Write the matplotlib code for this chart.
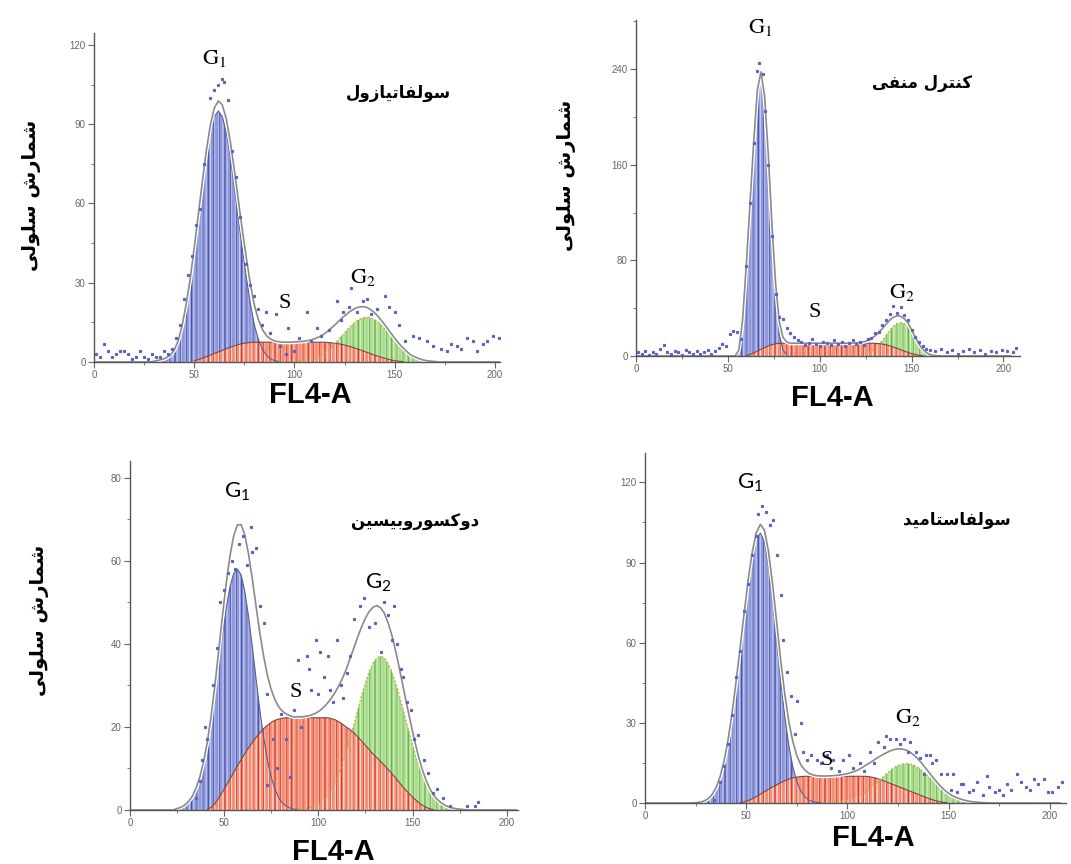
import numpy as np
import matplotlib
matplotlib.use('Agg')
import matplotlib.pyplot as plt

plt.rcParams['font.family'] = ['Liberation Sans', 'DejaVu Sans']
plt.rcParams['hatch.linewidth'] = 0.8
plt.rcParams['mathtext.rm'] = 'Lato'
plt.rcParams['mathtext.it'] = 'Lato:italic'
plt.rcParams['mathtext.bf'] = 'Lato:bold'

# ---------------- data ----------------
# panel 1: sulfathiazole, even grid
p1_title = 'سولفاتیازول'
p1_g1_start = 30
p1_g1 = [0.3, 0.6, 1.0, 1.6, 2.5, 4.5, 8, 14, 22, 31.5, 42.8, 54.6, 66.6, 77.8, 86.9, 92.9, 95,
         92.9, 86.9, 77.8, 66.6, 54.6, 42.8, 32.1, 22, 14, 8.5, 4.8, 2.5, 1.2, 0.5, 0.2, 0]
p1_s_start = 48
p1_s = [0, 0.5, 0.9, 1.4, 2.0, 2.6, 3.2, 3.8, 4.4, 5.0, 5.6, 6.1, 6.6, 7.0, 7.2, 7.4,
        7.5, 7.5, 7.5, 7.5, 7.5, 7.5, 7.5, 7.5, 7.5, 7.5, 7.5, 7.5, 7.5, 7.5, 7.5, 7.5, 7.5, 7.5,
        7.4, 7.3, 7.1, 6.9, 6.6, 6.2, 5.8, 5.3, 4.8, 4.25, 3.7, 3.15, 2.6, 2.1, 1.6, 1.2, 0.8,
        0.5, 0.3, 0.15, 0.05, 0]
p1_g2_start = 100
p1_g2 = [0.1, 0.2, 0.3, 0.5, 0.8, 1.3, 1.9, 2.7, 3.9, 5.3, 6.8, 8.5, 10.2, 11.9, 13.5, 14.9, 16.0,
         16.7, 17, 16.7, 16.0, 14.9, 13.5, 11.9, 10.2, 8.5, 6.8, 5.3, 3.9, 2.7, 1.9, 1.3, 0.8,
         0.5, 0.3, 0.2]
p1_dot_x = [1, 3, 5, 7, 9, 11, 13, 15, 17, 19, 21, 23, 25, 27, 29, 31, 33, 35, 37, 39,
            41, 43, 45, 47, 49, 51, 53, 55, 58, 60, 62, 64, 65, 67, 69, 71, 73, 76, 78, 80,
            82, 84, 86, 88, 91, 93, 96, 97, 100, 102, 106, 108, 111, 113, 117, 121, 123, 124, 127, 128,
            131, 134, 136, 138, 141, 145, 147, 150, 152, 155, 159, 162, 166, 169, 173, 176, 178, 181, 183, 186,
            189, 191, 194, 196, 199, 202]
p1_dot_y = [3, 2, 7, 4, 2, 3, 4, 4, 3, 1, 2, 4, 2, 1, 3, 2, 2, 4, 3, 5,
            9, 14, 24, 33, 40, 52, 58, 75, 100, 103, 105, 107, 106, 99, 80, 70, 55, 37, 29, 25,
            20, 14, 19, 11, 18, 6, 3, 13, 4, 9, 19, 8, 13, 10, 12, 23, 16, 19, 21, 28,
            19, 23, 24, 18, 20, 25, 21, 19, 14, 8, 10, 9, 8, 6, 5, 4, 7, 6, 5, 9,
            8, 4, 7, 8, 10, 9]

# panel 2: negative control, even grid
p2_title = 'کنترل منفی'
p2_g1_start = 54
p2_g1 = [0, 5, 30, 75, 125, 175, 218, 232, 210, 160, 100, 50, 18, 5, 1, 0]
p2_s_start = 58
p2_s = [0, 0.3, 1.2, 2.5, 4, 5.6, 7.1, 8.4, 9.5, 10.2, 10.6,
        10.7, 10.7, 10.7, 10.7, 10.7, 10.7, 10.7, 10.7, 10.7, 10.7, 10.7, 10.7, 10.7,
        10.7, 10.7, 10.7, 10.7, 10.7, 10.7, 10.7, 10.7, 10.7, 10.7, 10.7, 10.7,
        10.6, 10.4, 10.0, 9.4, 8.6, 7.6, 6.5, 5.3, 4.1, 3.0, 2.0, 1.2, 0.6, 0.25, 0.05, 0]
p2_g2_start = 118
p2_g2 = [0.1, 0.3, 0.6, 1.2, 2.2, 3.8, 6.0, 9.1, 12.8, 17.0, 21.3, 24.7, 27.1, 28, 27.1, 24.7,
         20, 14.5, 9.5, 5.5, 2.8, 1.2, 0.5, 0.2, 0]
p2_dot_x = [1, 3, 5, 7, 9, 11, 13, 15, 17, 19, 21, 23, 25, 27, 29, 31, 33, 35, 37, 39,
            41, 43, 45, 47, 49, 51, 53, 55, 57,
            60, 62, 64, 66, 67, 69, 70, 72, 74, 76, 78,
            80, 82, 84, 86, 88, 90, 92, 94, 96, 98, 100, 102, 104, 106, 108, 110, 112, 114, 116, 118,
            120, 122, 124, 126, 128, 130, 132, 134, 136, 138, 140, 142, 144, 146, 148, 150, 152, 154,
            156, 158, 160,
            163, 166, 169, 172, 175, 178, 181, 184, 187, 190, 193, 196, 199, 202, 205, 207]
p2_dot_y = [3, 2, 4, 1, 3, 2, 6, 9, 3, 2, 4, 3, 1, 5, 3, 2, 4, 2, 3, 5,
            2, 4, 7, 10, 8, 18, 21, 20, 14,
            75, 128, 178, 238, 245, 236, 205, 160, 100, 52, 33,
            31, 23, 19, 16, 13, 12, 9, 11, 14, 10, 8, 12, 11, 9, 13, 10, 12, 8, 11, 13,
            10, 12, 9, 14, 15, 19, 20, 26, 30, 35, 42, 36, 41, 34, 30, 22, 16, 12,
            8, 6, 5,
            4, 6, 3, 5, 2, 4, 6, 3, 5, 2, 4, 3, 5, 4, 3, 7]

# panel 3: doxorubicin, odd grid
p3_title = 'دوکسوروبیسین'
p3_g1_start = 25
p3_g1 = [0.35, 0.65, 1.15, 2.0, 3.25, 5.2, 7.85, 11.5, 16.1, 21.8, 28.2, 35.2, 42.1, 48.5, 53.5,
         56.9, 58, 56.6, 52.5, 46.4, 39.1, 31.3, 23.8, 17.3, 11.9, 7.85, 4.9, 2.9, 1.66, 0.9,
         0.46, 0.2, 0.1, 0]
p3_s_start = 39
p3_s = [0, 0.1, 0.6, 1.5, 2.8, 4.3, 5.8, 7.4, 9.0, 10.6, 12.1, 13.6, 15.0, 16.3, 17.5, 18.6,
        19.6, 20.4, 21.1, 21.6, 21.9, 22.1,
        22.2, 22.2, 22.2, 22.2, 22.2, 22.2, 22.2, 22.2, 22.2, 22.2, 22.2, 22.2,
        22.0, 21.7, 21.2, 20.6, 19.9, 19.3, 18.5, 17.6, 16.6, 15.6, 14.5, 13.5, 12.6, 11.7,
        10.8, 9.8, 8.8, 7.7, 6.6, 5.5, 4.5, 3.6, 2.7, 1.9, 1.2, 0.7, 0.3, 0.1, 0]
p3_g2_start = 89
p3_g2 = [0.12, 0.2, 0.33, 0.5, 0.8, 1.2, 1.8, 2.6, 3.6, 5.0, 6.7, 8.8, 11.3, 14.2, 17.4, 20.7,
         24.2, 27.5, 30.6, 33.3, 35.3, 36.6, 37, 36.6, 35.3, 33.3, 30.6, 27.5, 24.2, 20.7, 17.4,
         14.2, 11.3, 8.8, 6.7, 5.0, 3.6, 2.6, 1.8, 1.2, 0.8, 0.5, 0.33, 0.2, 0.12]
p3_dot_x = [35, 37, 38, 40, 41, 44, 46, 48, 50, 52, 54, 56, 58, 60, 62, 64, 65, 67, 69, 71,
            73, 73, 76, 78, 80, 83, 85, 87, 89, 91, 94, 95, 96, 99, 100, 101, 103, 105, 106, 108,
            110, 112, 113, 115, 117, 119, 122, 124, 127, 130, 133, 135, 137, 139, 140, 142, 144, 145, 147, 149,
            151, 153, 156, 158, 161, 163, 166, 170, 179, 183, 185]
p3_dot_y = [3, 7, 12, 20, 17, 30, 39, 50, 53, 57, 60, 58, 64, 66, 59, 68, 62, 63, 49, 45,
            28, 6, 17, 10, 23, 17, 8, 24, 36, 20, 37, 34, 29, 41, 28, 38, 32, 37, 29, 26,
            41, 30, 27, 33, 37, 46, 49, 51, 44, 45, 38, 50, 47, 41, 49, 40, 34, 32, 26, 24,
            17, 18, 12, 9, 4, 5, 3, 1, 1, 1, 2]

# panel 4: sulfacetamide, odd grid
p4_title = 'سولفاستامید'
p4_g1_start = 25
p4_g1 = [0.1, 0.3, 0.7, 1.5, 3.0, 5.6, 9.6, 15.5, 23.5, 33.5, 45.5, 58.1, 70.8, 82.7, 92.4, 98.8,
         101, 97.9, 89.1, 76.2, 61.3, 46.2, 32.8, 21.8, 13.7, 8.0, 4.4, 2.3, 1.1, 0.5, 0.2, 0.1, 0]
p4_s_start = 45
p4_s = [0, 0.1, 0.4, 0.9, 1.6, 2.4, 3.3, 4.2, 5.1, 6.0, 6.8, 7.6, 8.3, 8.9, 9.4, 9.7, 9.9,
        10.0, 10.0, 10.0, 10.0, 10.0, 10.0, 10.0, 10.0, 10.0, 10.0, 10.0, 10.0, 10.0, 10.0, 10.0, 10.0,
        9.8, 9.5, 9.1, 8.6, 8.0, 7.4, 6.8, 6.2, 5.6, 5.0, 4.4, 3.8, 3.2, 2.6, 2.0, 1.5, 1.0,
        0.6, 0.3, 0.1, 0]
p4_g2_start = 89
p4_g2 = [0.09, 0.14, 0.23, 0.36, 0.56, 0.83, 1.2, 1.7, 2.3, 3.1, 4.1, 5.2, 6.5, 7.9, 9.3, 10.7,
         12.06, 13.2, 14.06, 14.6, 14.8, 14.6, 14.06, 13.2, 12.06, 10.7, 9.3, 7.9, 6.5, 5.2, 4.1,
         3.1, 2.3, 1.7, 1.2, 0.83, 0.56, 0.36, 0.23, 0.14, 0.09]
p4_dot_x = [34, 37, 39, 41, 43, 45, 47, 49, 51, 53, 55, 56, 58, 60, 62, 63, 65, 67, 68, 70,
            72, 74, 75, 77, 78, 80, 82, 85, 87, 90, 92, 93, 96, 98, 101, 103, 106, 108, 111, 113,
            115, 118, 119, 121, 124, 126, 128, 130, 131, 134, 136, 138, 139, 141, 142, 144, 146, 149, 151, 152,
            154, 156, 157, 160, 162, 164, 167, 169, 170, 173, 175, 177, 179, 181, 184, 186, 188, 190, 192, 194,
            197, 199, 201, 204, 206]
p4_dot_y = [1, 8, 14, 22, 33, 47, 57, 72, 82, 93, 100, 108, 111, 109, 104, 106, 93, 78, 61, 49,
            40, 26, 38, 30, 19, 16, 18, 16, 15, 18, 13, 16, 12, 16, 18, 13, 15, 12, 19, 15,
            23, 21, 25, 24, 24, 22, 24, 19, 23, 19, 17, 11, 18, 18, 15, 16, 11, 11, 5, 11,
            4, 7, 7, 4, 5, 8, 3, 10, 6, 4, 5, 3, 7, 5, 11, 8, 6, 5, 9, 7,
            9, 4, 4, 6, 8]

x_ticks = [0, 50, 100, 150, 200]
y_label = 'شمارش سلولی'
x_label = 'FL4-A'

# ---------------- Persian shaping (matplotlib has no complex text layout) ----------------
FORMS = {  # isolated, final, initial, medial
    'ا': ('\ufe8d', '\ufe8e', None, None),
    'ب': ('\ufe8f', '\ufe90', '\ufe91', '\ufe92'),
    'ت': ('\ufe95', '\ufe96', '\ufe97', '\ufe98'),
    'د': ('\ufea9', '\ufeaa', None, None),
    'ر': ('\ufead', '\ufeae', None, None),
    'ز': ('\ufeaf', '\ufeb0', None, None),
    'س': ('\ufeb1', '\ufeb2', '\ufeb3', '\ufeb4'),
    'ش': ('\ufeb5', '\ufeb6', '\ufeb7', '\ufeb8'),
    'ف': ('\ufed1', '\ufed2', '\ufed3', '\ufed4'),
    'ک': ('\ufb8e', '\ufb8f', '\ufb90', '\ufb91'),
    'ل': ('\ufedd', '\ufede', '\ufedf', '\ufee0'),
    'م': ('\ufee1', '\ufee2', '\ufee3', '\ufee4'),
    'ن': ('\ufee5', '\ufee6', '\ufee7', '\ufee8'),
    'و': ('\ufeed', '\ufeee', None, None),
    'ی': ('\ufbfc', '\ufbfd', '\ufbfe', '\ufbff'),
}


def shape_fa(text):
    out = []
    for i, ch in enumerate(text):
        if ch not in FORMS:
            out.append(ch)
            continue
        prev = text[i - 1] if i > 0 else ''
        nxt = text[i + 1] if i + 1 < len(text) else ''
        iso, fin, ini, med = FORMS[ch]
        join_prev = prev in FORMS and FORMS[prev][2] is not None
        join_next = ini is not None and nxt in FORMS
        if join_prev and join_next:
            out.append(med)
        elif join_prev:
            out.append(fin)
        elif join_next:
            out.append(ini)
        else:
            out.append(iso)
    return ''.join(reversed(out))


def on_grid(grid, start, vals):
    out = np.zeros(len(grid))
    i = int(np.searchsorted(grid, start))
    out[i:i + len(vals)] = vals
    return out


def only_pos(y):
    return np.where(y > 0.05, y, np.nan)


BLUE = ('#8e99db', '#3f4aae')
RED = ('#f3906f', '#e02a36')
GREEN = ('#abdb8c', '#5db43c')


def draw_panel(ax, grid, g1, s, g2, dx, dy, xmax, ymax, yticks, ystep):
    total = g1 + s + g2
    for comp, (face, line) in ((g1, BLUE), (g2, GREEN), (s, RED)):
        ax.fill_between(grid, 0, comp, facecolor=face, edgecolor=line, hatch='|||', linewidth=0, zorder=1)
        ax.fill_between(grid, 0, comp, facecolor='none', edgecolor='white', hatch='||||', linewidth=0,
                        alpha=0.5, zorder=1.1)
    ax.plot(grid, only_pos(g1), color='#5b608e', lw=0.8, zorder=2)
    ax.plot(grid, only_pos(s), color='#7a4a40', lw=0.8, zorder=2)
    ax.plot(grid, only_pos(g2), color='#b8b23c', lw=1.1, ls=':', zorder=2)
    ax.plot(grid, total, color='white', lw=3, zorder=2.1)
    ax.plot(grid, total, color='#8a8a8a', lw=1.2, zorder=2.2)
    ax.plot(dx, dy, ls='none', marker='s', ms=1.3, color='#5a62c6', zorder=2.3)

    ax.set_xlim(0, xmax)
    ax.set_ylim(0, ymax)
    ax.set_xticks(x_ticks)
    ax.set_xticks([25, 75, 125, 175], minor=True)
    ax.set_yticks(yticks)
    ax.set_yticks([t + ystep / 2 for t in yticks if t + ystep / 2 < ymax], minor=True)
    ax.tick_params(which='major', length=4, width=0.8, color='#666666', labelsize=7,
                   labelcolor='#666666', pad=2)
    ax.tick_params(which='minor', length=2, width=0.7, color='#777777')
    for sp in ('top', 'right'):
        ax.spines[sp].set_visible(False)
    for sp in ('left', 'bottom'):
        ax.spines[sp].set_color('#555555')
        ax.spines[sp].set_linewidth(1.0)
        ax.spines[sp].set_zorder(3)


W, H = 1071, 864
fig = plt.figure(figsize=(W / 100, H / 100), dpi=100)


def axes_px(left, top, right, bottom):
    return fig.add_axes([left / W, 1 - bottom / H, (right - left) / W, (bottom - top) / H])


even = np.arange(0, 206, 2)
odd = np.arange(1, 207, 2)

ax1 = axes_px(94, 33, 500, 362)
draw_panel(ax1, even, on_grid(even, p1_g1_start, p1_g1), on_grid(even, p1_s_start, p1_s),
           on_grid(even, p1_g2_start, p1_g2), p1_dot_x, p1_dot_y, 202.5, 124.5, [0, 30, 60, 90, 120], 30)
ax2 = axes_px(636, 20, 1020, 356)
draw_panel(ax2, even, on_grid(even, p2_g1_start, p2_g1), on_grid(even, p2_s_start, p2_s),
           on_grid(even, p2_g2_start, p2_g2), p2_dot_x, p2_dot_y, 209, 281, [0, 80, 160, 240], 80)
ax3 = axes_px(130, 461, 518, 810)
draw_panel(ax3, odd, on_grid(odd, p3_g1_start, p3_g1), on_grid(odd, p3_s_start, p3_s),
           on_grid(odd, p3_g2_start, p3_g2), p3_dot_x, p3_dot_y, 206, 84, [0, 20, 40, 60, 80], 20)
ax4 = axes_px(645, 453, 1066, 803)
draw_panel(ax4, odd, on_grid(odd, p4_g1_start, p4_g1), on_grid(odd, p4_s_start, p4_s),
           on_grid(odd, p4_g2_start, p4_g2), p4_dot_x, p4_dot_y, 208, 131, [0, 30, 60, 90, 120], 30)

# phase labels: math font per label (serif 'stix' or sans 'custom'), S always serif
for ax, (g1p, sp, g2p), f1, f2 in ((ax1, ((60, 115), (95, 22), (134, 32)), 'stix', 'stix'),
                                   (ax2, ((67.6, 275), (97, 36), (145, 53.5)), 'stix', 'stix'),
                                   (ax3, ((57, 76.6), (88, 28.4), (132, 54.7)), 'custom', 'custom'),
                                   (ax4, ((52, 120), (90, 16), (130, 32)), 'custom', 'stix')):
    ax.text(*g1p, r'$\mathrm{G}_{1}$', fontsize=16, ha='center', va='center', math_fontfamily=f1)
    ax.text(*g2p, r'$\mathrm{G}_{2}$', fontsize=16, ha='center', va='center', math_fontfamily=f2)
    ax.text(*sp, 'S', family='Liberation Serif', fontsize=16, ha='center', va='center')

fa = dict(family='DejaVu Sans', weight='bold', ha='center', va='center')
ax1.text(151.6, 101.8, shape_fa(p1_title), fontsize=12, **fa)
ax2.text(155.9, 228, shape_fa(p2_title), fontsize=12, **fa)
ax3.text(151.6, 69.2, shape_fa(p3_title), fontsize=12, **fa)
ax4.text(154, 106.1, shape_fa(p4_title), fontsize=12, **fa)

for px, py in ((310, 395), (832, 398), (333, 852), (873, 838)):
    fig.text(px / W, 1 - py / H, x_label, fontsize=21, weight='bold', ha='center', va='center')
for px, py in ((32, 195), (567, 175), (40, 620)):
    fig.text(px / W, 1 - py / H, shape_fa(y_label), fontsize=14, rotation=90, **fa)

fig.savefig('out.png', dpi=100)
